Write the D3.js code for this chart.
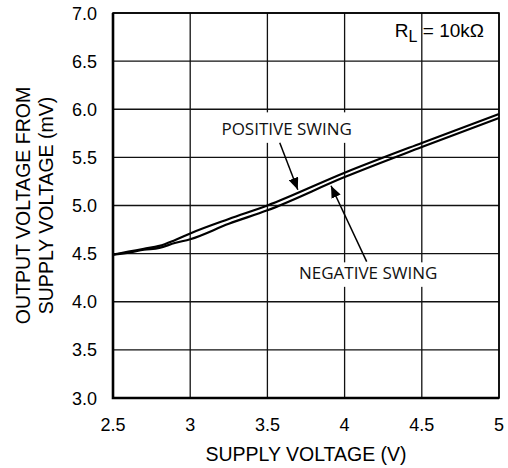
<!DOCTYPE html>
<meta charset="utf-8" />
<script src="https://d3js.org/d3.v7.js"></script>
<style>
  body { margin: 0; background: white; }
  text { font-family: "Liberation Sans", Arial, sans-serif; }
  .note { font-family: "Open Sans", sans-serif; }
</style>
<div id="my_dataviz_div"></div>
<script>
  // values
  const supplyV = [2.5, 2.6, 2.7, 2.8, 2.9, 3.0, 3.25, 3.5, 4.0, 4.5, 5.0];
  const positiveSwing = [4.49, 4.52, 4.55, 4.58, 4.64, 4.71, 4.86, 5.0, 5.34, 5.65, 5.95];
  const negativeSwing = [4.49, 4.51, 4.54, 4.56, 4.61, 4.65, 4.81, 4.95, 5.295, 5.607, 5.91];

  const xTicks = [2.5, 3, 3.5, 4, 4.5, 5];
  const xTickLabels = ["2.5", "3", "3.5", "4", "4.5", "5"];
  const yTicks = [3.0, 3.5, 4.0, 4.5, 5.0, 5.5, 6.0, 6.5, 7.0];

  // labels + arrows, in data units
  const labels = [
    { text: "POSITIVE SWING", x: 3.625, y: 5.734, padTop: 10, padBot: 8, from: [3.58, 5.651], to: [3.697, 5.164] },
    { text: "NEGATIVE SWING", x: 4.153, y: 4.238, padTop: 4, padBot: 8, from: [4.143, 4.417], to: [3.912, 5.205] }
  ];

  const width = 508;
  const height = 468;
  const margin = { top: 13, right: 9, bottom: 70, left: 113 };
  const plotW = width - margin.left - margin.right;
  const plotH = height - margin.top - margin.bottom;

  const svg = d3
    .select("#my_dataviz_div")
    .append("svg")
    .attr("width", width)
    .attr("height", height);

  const x = d3.scaleLinear().domain([2.5, 5]).range([margin.left, margin.left + plotW]);
  const y = d3.scaleLinear().domain([3, 7]).range([margin.top + plotH, margin.top]);

  svg.append("defs")
    .append("marker")
    .attr("id", "arrow")
    .attr("viewBox", "0 0 12 10")
    .attr("refX", 12)
    .attr("refY", 5)
    .attr("markerWidth", 12)
    .attr("markerHeight", 10)
    .attr("markerUnits", "userSpaceOnUse")
    .attr("orient", "auto")
    .append("path")
    .attr("d", "M0,0 L12,5 L0,10 Z")
    .attr("fill", "black");

  // grid
  const grid = svg.append("g");
  grid.selectAll(".vg")
    .data(xTicks)
    .enter()
    .append("line")
    .attr("x1", d => x(d)).attr("x2", d => x(d))
    .attr("y1", y(3)).attr("y2", y(7))
    .attr("stroke", "#111")
    .attr("stroke-width", 1.3);
  grid.selectAll(".hg")
    .data(yTicks)
    .enter()
    .append("line")
    .attr("x1", x(2.5)).attr("x2", x(5))
    .attr("y1", d => y(d)).attr("y2", d => y(d))
    .attr("stroke", "#111")
    .attr("stroke-width", 1.3);

  // label boxes (white, cut the grid)
  const noteG = svg.append("g");
  labels.forEach(function (d) {
    const t = noteG.append("text")
      .attr("class", "note")
      .attr("x", x(d.x))
      .attr("y", y(d.y))
      .attr("text-anchor", "middle")
      .style("font-size", "17px")
      .style("fill", "#111")
      .text(d.text);
    const bb = t.node().getBBox();
    noteG.insert("rect", "text")
      .attr("x", bb.x - 4)
      .attr("y", y(d.y) - 12.5 - d.padTop)
      .attr("width", bb.width + 8)
      .attr("height", 12.5 + d.padTop + d.padBot)
      .attr("fill", "white");
  });

  // curves
  const line = d3.line()
    .x(d => x(d[0]))
    .y(d => y(d[1]))
    .curve(d3.curveMonotoneX);

  [positiveSwing, negativeSwing].forEach(function (s) {
    svg.append("path")
      .datum(supplyV.map((v, i) => [v, s[i]]))
      .attr("d", line)
      .attr("fill", "none")
      .attr("stroke", "black")
      .attr("stroke-width", 2.2);
  });

  // arrows
  svg.selectAll(".arr")
    .data(labels)
    .enter()
    .append("line")
    .attr("x1", d => x(d.from[0])).attr("y1", d => y(d.from[1]))
    .attr("x2", d => x(d.to[0])).attr("y2", d => y(d.to[1]))
    .attr("stroke", "black")
    .attr("stroke-width", 1.5)
    .attr("marker-end", "url(#arrow)");

  // frame
  svg.append("rect")
    .attr("x", x(2.5)).attr("y", y(7))
    .attr("width", plotW).attr("height", plotH)
    .attr("fill", "none")
    .attr("stroke", "black")
    .attr("stroke-width", 1.6);
  svg.append("path")
    .attr("d", `M${x(2.5)},${y(7)} V${y(3)} H${x(5)}`)
    .attr("fill", "none")
    .attr("stroke", "black")
    .attr("stroke-width", 2.6);

  // tick labels
  svg.selectAll(".xt")
    .data(xTicks)
    .enter()
    .append("text")
    .attr("x", d => x(d))
    .attr("y", y(3) + 33)
    .attr("text-anchor", "middle")
    .style("font-size", "18px")
    .text((d, i) => xTickLabels[i]);

  svg.selectAll(".yt")
    .data(yTicks)
    .enter()
    .append("text")
    .attr("x", x(2.5) - 16)
    .attr("y", d => y(d) + 6.5)
    .attr("text-anchor", "end")
    .style("font-size", "18px")
    .text(d => d3.format(".1f")(d));

  // axis titles
  svg.append("text")
    .attr("x", margin.left + plotW / 2)
    .attr("y", 461)
    .attr("text-anchor", "middle")
    .style("font-size", "19.5px")
    .text("SUPPLY VOLTAGE (V)");

  const yc = margin.top + plotH / 2;
  svg.append("text")
    .attr("transform", `translate(30,${yc}) rotate(-90)`)
    .attr("text-anchor", "middle")
    .style("font-size", "19.5px")
    .text("OUTPUT VOLTAGE FROM");
  svg.append("text")
    .attr("transform", `translate(53,${yc}) rotate(-90)`)
    .attr("text-anchor", "middle")
    .style("font-size", "19.5px")
    .text("SUPPLY VOLTAGE (mV)");

  // load note
  const rl = svg.append("text")
    .attr("x", x(5) - 15)
    .attr("y", y(7) + 24)
    .attr("text-anchor", "end")
    .style("font-size", "19px");
  rl.append("tspan").text("R");
  rl.append("tspan").attr("dy", 5).style("font-size", "16px").text("L");
  rl.append("tspan").attr("dy", -5).text(" = 10kΩ");
</script>
